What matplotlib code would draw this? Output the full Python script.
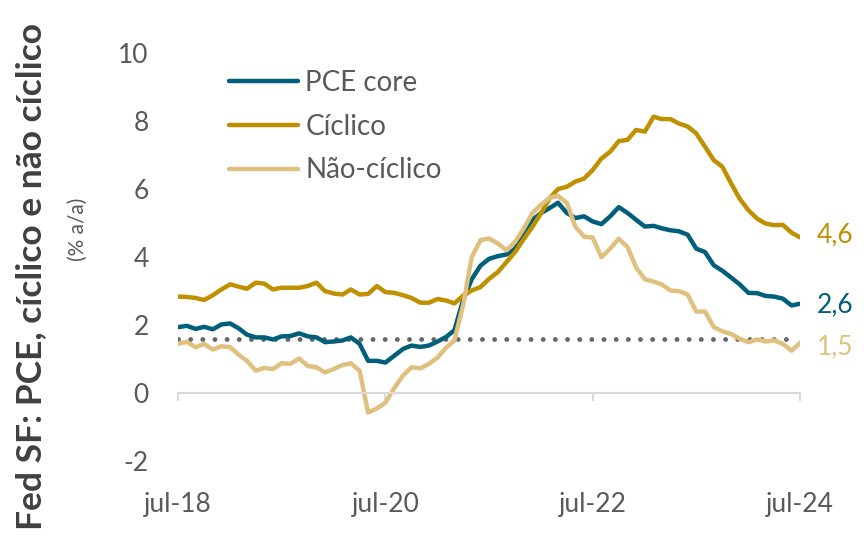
import numpy as np
import pandas as pd
import matplotlib
matplotlib.use("Agg")
import matplotlib.pyplot as plt

plt.rcParams['font.family'] = ['Lato', 'DejaVu Sans']
plt.rcParams['axes.unicode_minus'] = False

# ---------- data (% a/a, jul-18 .. jul-24, monthly) ----------
months = pd.date_range("2018-07-01", "2024-07-01", freq="MS")

pce_core = [1.94, 1.98, 1.89, 1.95, 1.88, 2.02, 2.05, 1.90, 1.72, 1.64,
            1.64, 1.58, 1.67, 1.68, 1.76, 1.67, 1.64, 1.50, 1.52, 1.55,
            1.64, 1.45, 0.95, 0.95, 0.90, 1.10, 1.30, 1.40, 1.36, 1.40,
            1.52, 1.66, 1.85, 2.75, 3.35, 3.75, 3.95, 4.03, 4.08, 4.25,
            4.75, 5.10, 5.30, 5.45, 5.60, 5.30, 5.15, 5.20, 5.05, 4.97,
            5.20, 5.47, 5.30, 5.10, 4.90, 4.92, 4.85, 4.79, 4.76, 4.66,
            4.25, 4.15, 3.76, 3.60, 3.40, 3.20, 2.95, 2.94, 2.86, 2.84,
            2.78, 2.58, 2.63]

ciclico = [2.84, 2.83, 2.80, 2.74, 2.88, 3.05, 3.20, 3.13, 3.07, 3.25,
           3.22, 3.05, 3.10, 3.10, 3.10, 3.15, 3.25, 3.00, 2.93, 2.90,
           3.05, 2.90, 2.92, 3.15, 2.97, 2.95, 2.88, 2.80, 2.66, 2.66,
           2.77, 2.72, 2.64, 2.87, 3.02, 3.12, 3.36, 3.56, 3.86, 4.15,
           4.54, 4.89, 5.30, 5.75, 6.00, 6.07, 6.22, 6.31, 6.56, 6.90,
           7.10, 7.41, 7.45, 7.74, 7.69, 8.13, 8.06, 8.06, 7.93, 7.84,
           7.64, 7.25, 6.85, 6.66, 6.17, 5.72, 5.38, 5.13, 4.99, 4.94,
           4.95, 4.72, 4.58]

nao_ciclico = [1.45, 1.51, 1.35, 1.45, 1.28, 1.38, 1.35, 1.12, 0.95, 0.66,
               0.74, 0.71, 0.88, 0.86, 1.02, 0.80, 0.76, 0.61, 0.71, 0.83,
               0.88, 0.66, -0.57, -0.45, -0.28, 0.15, 0.52, 0.76, 0.73, 0.86,
               1.05, 1.35, 1.55, 2.60, 4.00, 4.50, 4.55, 4.40, 4.20, 4.45,
               4.85, 5.30, 5.55, 5.75, 5.80, 5.60, 4.90, 4.60, 4.58, 4.00,
               4.25, 4.54, 4.30, 3.70, 3.35, 3.28, 3.20, 3.02, 3.00, 2.90,
               2.40, 2.40, 1.94, 1.82, 1.74, 1.60, 1.50, 1.58, 1.52, 1.55,
               1.45, 1.25, 1.48]

reference = 1.6  # dotted line

tick_dates = ["2018-07-01", "2020-07-01", "2022-07-01", "2024-07-01"]
tick_labels = ["jul-18", "jul-20", "jul-22", "jul-24"]
y_ticks = [-2, 0, 2, 4, 6, 8, 10]

C_CORE = "#005F7A"
C_CIC = "#BF9000"
C_NAO = "#E0C07E"
GREY = "#595959"
AXIS = "#D9D9D9"

fig = plt.figure(figsize=(8.64, 5.59), dpi=100)
ax = fig.add_axes([0.206, 0.175, 0.72, 0.73])

ax.plot(months[:-1], [reference] * (len(months) - 1), color="#666666",
        lw=3.5, ls=(0, (0.001, 2.5)), dash_capstyle="round")
ax.plot(months, pce_core, color=C_CORE, lw=3.2, label="PCE core",
        solid_capstyle="round")
ax.plot(months, ciclico, color=C_CIC, lw=3.2, label="Cíclico",
        solid_capstyle="round")
ax.plot(months, nao_ciclico, color=C_NAO, lw=3.2, label="Não-cíclico",
        solid_capstyle="round")

# end labels
for vals, col, dy in [(ciclico, C_CIC, 2), (pce_core, C_CORE, -1),
                      (nao_ciclico, C_NAO, -3)]:
    ax.annotate(f"{vals[-1]:.1f}".replace(".", ","), xy=(months[-1], vals[-1]),
                xytext=(12, dy), textcoords="offset points", color=col,
                fontsize=19, va="center", ha="left")

ax.set_xlim(months[0], months[-1])
ax.set_ylim(-2, 10)
ax.set_yticks(y_ticks)
ax.tick_params(axis="y", length=0, pad=21, labelsize=19, labelcolor=GREY)

for s in ["top", "right", "left"]:
    ax.spines[s].set_visible(False)
ax.spines["bottom"].set_position(("data", 0))
ax.spines["bottom"].set_color(AXIS)
ax.spines["bottom"].set_linewidth(1.5)
ax.set_xticks(pd.to_datetime(tick_dates))
ax.tick_params(axis="x", direction="out", length=6, width=1.5, color=AXIS,
               labelbottom=False)

# labels sit below the plot, not on the zero line
sec = ax.secondary_xaxis("bottom")
sec.set_xticks(pd.to_datetime(tick_dates), labels=tick_labels)
sec.tick_params(length=0, pad=22, labelsize=19, labelcolor=GREY)
sec.spines["bottom"].set_visible(False)

leg = ax.legend(loc="upper left", bbox_to_anchor=(0.055, 1.0), frameon=False,
                fontsize=20, handlelength=2.5, handletextpad=0.25,
                labelspacing=0.64, borderaxespad=0.2)
for t in leg.get_texts():
    t.set_color(GREY)

fig.text(0.036, 0.505, "Fed SF: PCE, cíclico e não cíclico", rotation=90,
         fontsize=25.5, fontweight="bold", color="#404040",
         ha="center", va="center")
fig.text(0.09, 0.59, "(% a/a)", rotation=90, fontsize=15, color=GREY,
         ha="center", va="center")

fig.savefig("out.png", dpi=100)
